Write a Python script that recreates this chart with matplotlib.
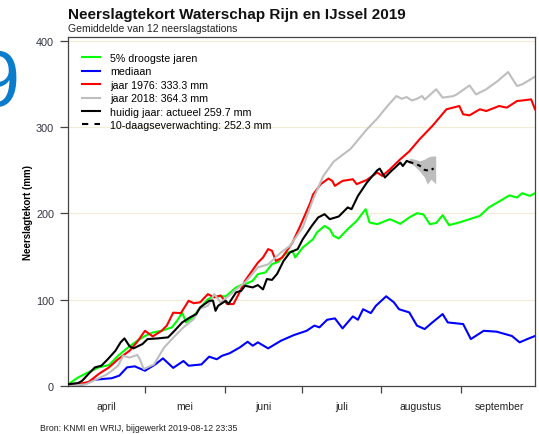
import matplotlib
matplotlib.use('Agg')
import matplotlib.pyplot as plt
from matplotlib.lines import Line2D

plt.rcParams['font.family'] = ['Liberation Sans', 'DejaVu Sans']

# ---- data (x = days since 1 April 2019) ----
month_starts = [0, 30, 61, 91, 122, 153, 183]
month_labels = ['april', 'mei', 'juni', 'juli', 'augustus', 'september']
y_ticks = [0, 100, 200, 300, 400]

green_days = [0, 1, 4, 8, 12, 16, 19.5, 23, 27, 30, 33, 36.5, 40.5, 42.5, 44.5, 46, 48.5, 51, 54.5, 57, 61.5,
              65.5, 67.5, 69, 72, 74, 77, 79.5, 82, 84.5, 87.5, 88.5, 91.5, 95.5, 97, 100, 102, 103.5, 105.5,
              109, 112.5, 116, 117.5, 120.5, 125.5, 129.5, 133, 136, 138.5, 141, 143.5, 146, 148.5, 152.5,
              156.5, 160.5, 164, 169.5, 172, 175, 177, 180, 182]
green_vals = [1, 4, 10, 16, 21.6, 24.3, 35, 43.7, 52.5, 58, 62, 64, 68, 75.6, 85.3, 73.7, 79.5, 89, 100.7, 103.9,
              104, 114.3, 117, 118, 122, 129.7, 131.7, 141.3, 144, 152.9, 156.7, 149, 160.6, 170.2, 178, 185.6,
              181.8, 174, 171, 181.8, 191.4, 205, 189.6, 187.6, 193.4, 188, 195.4, 200.3, 199, 187.6, 189, 198,
              186.5, 189.6, 193.4, 197.2, 207, 216.5, 221, 218.5, 223.5, 220.4, 223.5]

blue_days = [0, 6, 10, 13, 17, 20, 23, 26, 30, 34, 37, 41, 45, 47, 52, 55, 58, 60, 63, 67, 70, 72, 74, 78, 83,
             88, 93, 96, 98, 101, 104, 107, 111, 113, 115, 118, 120, 124, 127, 129, 133, 136, 139, 142, 146,
             148, 154, 157, 162, 167, 173, 176, 179, 182]
blue_vals = [0, 2, 7, 8, 9, 12, 21.6, 22.8, 17.7, 25, 32, 21, 29, 23.5, 25, 34, 31, 35, 38, 44.8, 51.3, 46.7,
             50.6, 43.6, 52.5, 59, 64, 70, 68, 76.8, 78.4, 66.8, 80.7, 76.8, 89, 84.5, 93, 104, 97, 89, 85.3,
             70, 66, 73.7, 83.4, 73.7, 71.8, 54.4, 64, 63, 58, 50.6, 54.4, 58]

red_days = [0, 8, 12, 16, 19.5, 24, 27, 30, 33, 36.5, 38.5, 41, 44, 47, 49, 51.5, 54.5, 57, 59.5, 62, 64.5,
            66.5, 69, 74, 76, 78, 79.5, 81, 83.5, 87.5, 90.5, 94.5, 95.5, 98.5, 101.5, 103, 104, 107, 111,
            112.5, 116.5, 120.5, 122.5, 125.5, 129.5, 133, 137, 142, 147.5, 152.5, 154, 156.5, 160.5, 163,
            168, 171, 175, 177, 180.5, 182]
red_vals = [0, 4.6, 14, 21.6, 31, 40.9, 51.3, 64, 57.5, 64, 70, 85, 84.5, 98.8, 96, 97, 106.5, 102.7, 105, 95,
            95, 106.5, 122, 143, 149, 158.7, 156.7, 145, 149, 166.4, 185.6, 213, 222, 234, 240.5, 237.8, 232,
            237.8, 239.7, 234, 239, 247.5, 243.5, 251.3, 262.9, 272, 286, 301.5, 320.8, 324.6, 315, 313.8,
            320.8, 318.8, 324.6, 322.7, 330.4, 331, 332.3, 320.8]

gray_days = [0, 7, 12, 15.5, 19.5, 21.5, 24, 27, 28, 29.5, 33.5, 37.5, 41, 45, 49, 51, 54.5, 57, 59.5, 63.5,
             65.5, 69, 74, 78, 83, 86.5, 91.5, 95.5, 99.5, 103.5, 107, 110, 116.5, 120.5, 124.5, 128, 130,
             132, 134, 136, 138, 139, 143.5, 146, 150, 151.5, 156.5, 159, 163, 167.5, 171.5, 175, 177, 182]
gray_vals = [0, 2, 9, 14, 23.5, 35, 33, 36, 31, 19.7, 25, 44.8, 56, 68, 77.6, 89, 93, 106.5, 97, 106.5, 112,
             120, 137.5, 141, 154.8, 162.5, 183.8, 216.5, 243.5, 260, 268, 274.5, 297.6, 310, 324.6, 336.2,
             333, 335, 331, 333, 336.2, 332, 344, 334.3, 336, 338, 348.5, 338, 344, 353.6, 364, 347.8, 349.7,
             358.6]

black_days = [0, 4, 5.5, 8, 10.5, 13, 15.5, 18.5, 20.5, 22, 24, 25.5, 29, 31, 35, 39, 41.5, 44.5, 47.5, 50,
              51.5, 55, 56.5, 57.5, 58.5, 61.5, 62.5, 65.5, 67.5, 69, 72, 74, 76, 77.5, 79.5, 81.5, 84, 86.5,
              89.5, 91.5, 95, 97.5, 100, 102, 105.5, 109, 110.5, 113, 116.5, 120.5, 121.5, 123.5, 126, 127.5,
              129.5, 130.5, 132, 133]
black_vals = [2, 3.5, 6, 14, 21.6, 23.5, 31, 40.9, 50.6, 55.2, 46, 43.6, 48.6, 54.4, 55.2, 56.4, 64, 73.7,
              79.5, 83.4, 91.1, 98.8, 99, 87.2, 93, 98.8, 95, 108.5, 110.4, 116.2, 114.3, 117, 112, 124, 123,
              130, 145, 154.8, 158.7, 170.2, 185.6, 195.4, 199.2, 193.4, 196.5, 207, 205, 220.4, 235.9, 250,
              252, 241.7, 249.3, 253.3, 259, 255, 261, 259.7]

fc_days = [133, 135, 137, 139, 141, 142.5]
fc_vals = [259.7, 258, 255.5, 250.5, 249.5, 252.3]

band_days = [133, 135, 137, 139, 140, 141.5, 143, 143.3]
band_upper = [264, 263, 261, 263, 265, 266.5, 266.7, 266.7]
band_lower = [259, 255, 249.3, 241.7, 234, 239.7, 235, 235]

legend_labels = ['5% droogste jaren', 'mediaan', 'jaar 1976: 333.3 mm', 'jaar 2018: 364.3 mm',
                 'huidig jaar: actueel 259.7 mm', '10-daagseverwachting: 252.3 mm']

# ---- figure ----
W, H = 539, 435
fig = plt.figure(figsize=(W / 100, H / 100), dpi=100)
ax = fig.add_axes([68 / W, 1 - 387 / H, (535 - 68) / W, (387 - 38) / H])

for y in y_ticks[1:]:
    ax.axhline(y, color='#f2ecd6', lw=0.8, zorder=0)

ax.fill_between(band_days, band_lower, band_upper, color='#bdbdbd', lw=0, zorder=1)
lw = 1.5
ax.plot(green_days, green_vals, color='#00ff00', lw=lw, zorder=2)
ax.plot(blue_days, blue_vals, color='#0000ff', lw=lw, zorder=2)
ax.plot(red_days, red_vals, color='#ff0000', lw=lw, zorder=2)
ax.plot(gray_days, gray_vals, color='#bebebe', lw=lw, zorder=2)
ax.plot(black_days, black_vals, color='black', lw=lw, zorder=3)
ax.plot(fc_days, fc_vals, color='black', lw=lw, ls=(0, (2, 2)), zorder=3)

ax.set_xlim(0, 182)
ax.set_ylim(0, 404.6)

ax.set_yticks(y_ticks)
ax.set_yticklabels([str(v) for v in y_ticks])
ax.set_xticks(month_starts[1:-1])
ax.set_xticklabels([])
mids = [(a + b) / 2 for a, b in zip(month_starts[:-1], month_starts[1:])]
ax.set_xticks(mids, minor=True)
ax.set_xticklabels(month_labels, minor=True)
ax.tick_params(axis='x', which='minor', length=0, pad=11, labelsize=7.5, labelcolor='#222222')
ax.tick_params(axis='x', which='major', length=5, color='#444444', width=0.9)
ax.tick_params(axis='y', length=6, pad=4, labelsize=7.8, labelcolor='#333344', color='#444444', width=0.9)

for s in ax.spines.values():
    s.set_color('#444444')
    s.set_linewidth(0.9)

ax.set_ylabel('Neerslagtekort (mm)', fontsize=7, fontweight='bold', labelpad=2)

handles = [Line2D([], [], color='#00ff00', lw=lw),
           Line2D([], [], color='#0000ff', lw=lw),
           Line2D([], [], color='#ff0000', lw=lw),
           Line2D([], [], color='#bebebe', lw=lw),
           Line2D([], [], color='black', lw=lw),
           Line2D([], [], color='black', lw=lw, ls=(0, (3, 3)))]
fig.legend(handles, legend_labels, loc='upper left', bbox_to_anchor=(82 / W, 1 - 54 / H),
           frameon=False, fontsize=7.7, handlelength=1.7, handletextpad=0.95, labelspacing=0.32,
           borderpad=0, borderaxespad=0)

fig.text(68 / W, 1 - 15 / H, 'Neerslagtekort Waterschap Rijn en IJssel 2019', fontsize=11,
         fontweight='bold', va='center', ha='left', color='#111111')
fig.text(68 / W, 1 - 29 / H, 'Gemiddelde van 12 neerslagstations', fontsize=7.5, va='center', ha='left',
         color='#222222')
fig.text(40 / W, 1 - 429 / H, 'Bron: KNMI en WRIJ, bijgewerkt 2019-08-12 23:35', fontsize=6.3,
         va='center', ha='left', color='#222222')
fig.text(19 / W, 1 - 106 / H, '9', fontsize=57, color='#0a7ccc', ha='right', va='baseline')

fig.savefig('out.png', dpi=100)
